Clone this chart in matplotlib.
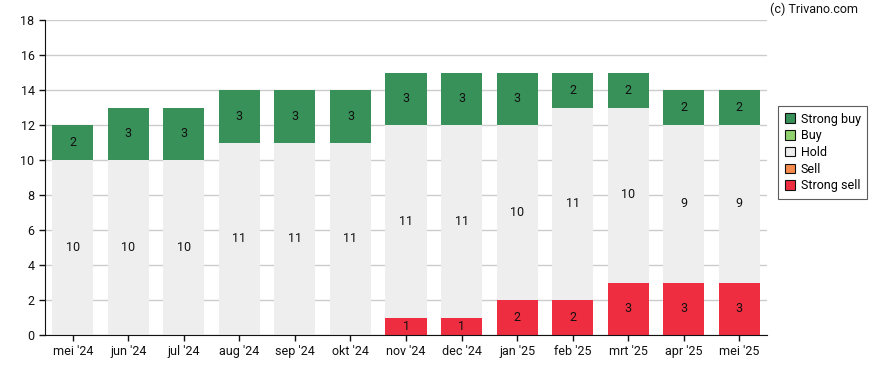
import matplotlib
matplotlib.use("Agg")
import matplotlib.pyplot as plt
from matplotlib.patches import Patch
import numpy as np

plt.rcParams['font.family'] = ['Roboto', 'DejaVu Sans']

categories = ["mei '24", "jun '24", "jul '24", "aug '24", "sep '24", "okt '24", "nov '24",
              "dec '24", "jan '25", "feb '25", "mrt '25", "apr '25", "mei '25"]
strong_sell = [0, 0, 0, 0, 0, 0, 1, 1, 2, 2, 3, 3, 3]
sell = [0] * 13
hold = [10, 10, 10, 11, 11, 11, 11, 11, 10, 11, 10, 9, 9]
buy = [0] * 13
strong_buy = [2, 3, 3, 3, 3, 3, 3, 3, 3, 2, 2, 2, 2]

series = [
    ("Strong sell", strong_sell, "#ee2e40"),
    ("Sell", sell, "#f58b4c"),
    ("Hold", hold, "#eeeeee"),
    ("Buy", buy, "#8fd16c"),
    ("Strong buy", strong_buy, "#389159"),
]

fs = 9
fig = plt.figure(figsize=(8.88, 3.70), dpi=100)
ax = fig.add_axes([45 / 888, 35 / 370, 722 / 888, 315 / 370])

x = np.arange(len(categories))
bottom = np.zeros(len(categories))
for name, vals, col in series:
    vals = np.array(vals, dtype=float)
    ax.bar(x, vals, bottom=bottom, width=0.74, color=col, zorder=2)
    for xi, b, v in zip(x, bottom, vals):
        if v > 0:
            ax.text(xi, b + v / 2, f"{int(v)}", ha='center', va='center',
                    fontsize=fs, color='#111111', zorder=3)
    bottom += vals

ax.set_xlim(-0.5, len(categories) - 0.5)
ax.set_ylim(0, 18)
ax.set_yticks(range(0, 19, 2))
ax.set_xticks(x)
ax.set_xticklabels(categories)
ax.tick_params(axis='both', labelsize=fs, colors='#111111', length=4, width=1)
ax.yaxis.grid(True, color='#cccccc', linewidth=1, zorder=0)
ax.set_axisbelow(True)
for s in ['top', 'right']:
    ax.spines[s].set_visible(False)
ax.spines['left'].set_color('#111111')
ax.spines['bottom'].set_color('#111111')

handles = [Patch(facecolor=c, edgecolor='#111111', linewidth=0.8, label=n)
           for n, _, c in reversed(series)]
leg = fig.legend(handles=handles, loc='upper left', bbox_to_anchor=(772 / 888, 1 - 100 / 370),
                 fontsize=fs, frameon=True, fancybox=False, edgecolor='#333333',
                 handlelength=0.8, handleheight=0.8, handletextpad=0.5,
                 labelspacing=0.3, borderpad=0.5)
leg.get_frame().set_linewidth(0.8)

fig.text(858 / 888, 1 - 9 / 370, "(c) Trivano.com", ha='right', va='center', fontsize=fs, color='#111111')

fig.savefig("out.png", dpi=100)
